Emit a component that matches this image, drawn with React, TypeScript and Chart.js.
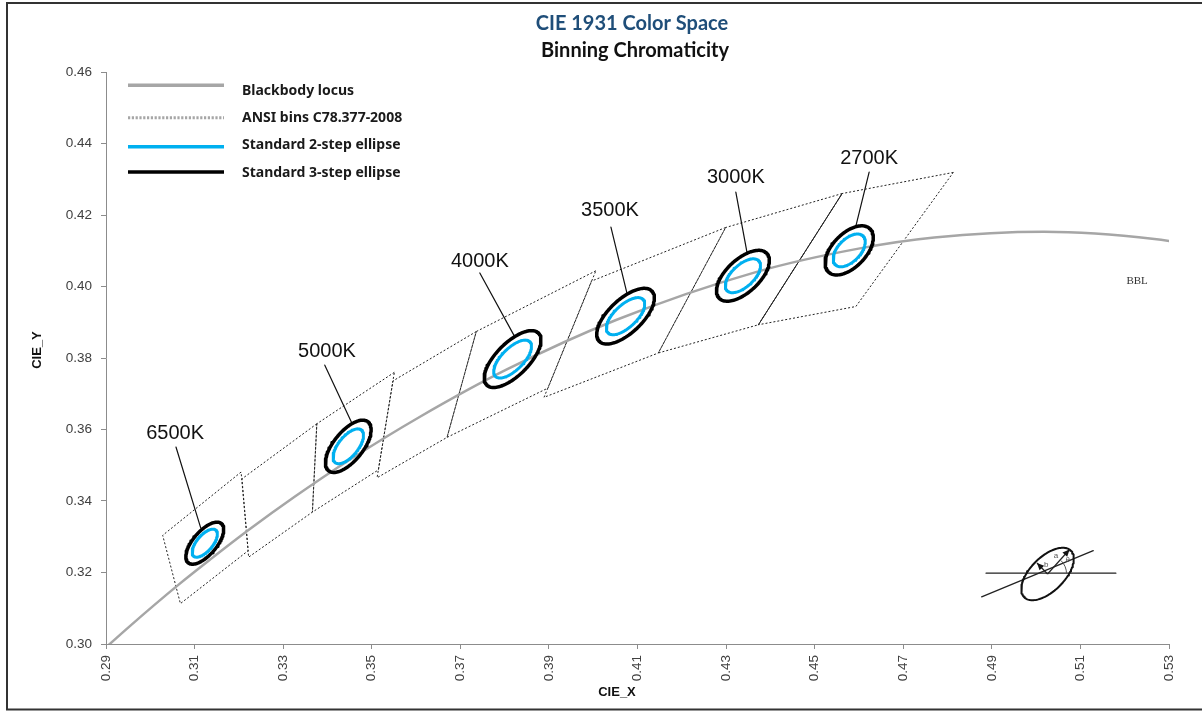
import React, { useEffect, useRef } from 'react';
import { Chart, registerables } from 'chart.js';

Chart.register(...registerables);

// ---------- axis ticks ----------
const xTickValues = [0.29, 0.31, 0.33, 0.35, 0.37, 0.39, 0.41, 0.43, 0.45, 0.47, 0.49, 0.51, 0.53];
const yTickValues = [0.30, 0.32, 0.34, 0.36, 0.38, 0.40, 0.42, 0.44, 0.46];

// ---------- Planckian (blackbody) locus, CIE 1931 x / y ----------
const locusX = [0.2869, 0.2952, 0.3064, 0.3135, 0.3221, 0.3325, 0.3451, 0.3608, 0.3805, 0.4053, 0.4369, 0.4599, 0.4770, 0.5018, 0.5267, 0.5403];
const locusY = [0.2956, 0.3048, 0.3166, 0.3236, 0.3318, 0.3411, 0.3516, 0.3635, 0.3768, 0.3907, 0.4041, 0.4106, 0.4137, 0.4153, 0.4133, 0.4106];

// ---------- ANSI C78.377-2008 quadrangles ----------
const binNames = ['6500K', '5700K', '5000K', '4500K', '4000K', '3500K', '3000K', '2700K'];
const binCornerX = [
  [0.3205, 0.3028, 0.3068, 0.3221],
  [0.3376, 0.3207, 0.3222, 0.3366],
  [0.3551, 0.3376, 0.3366, 0.3515],
  [0.3736, 0.3548, 0.3512, 0.3670],
  [0.4006, 0.3736, 0.3670, 0.3898],
  [0.4299, 0.3996, 0.3889, 0.4147],
  [0.4562, 0.4299, 0.4147, 0.4373],
  [0.4813, 0.4562, 0.4373, 0.4593],
];
const binCornerY = [
  [0.3481, 0.3304, 0.3113, 0.3261],
  [0.3616, 0.3462, 0.3243, 0.3369],
  [0.3760, 0.3616, 0.3369, 0.3487],
  [0.3874, 0.3736, 0.3465, 0.3578],
  [0.4044, 0.3874, 0.3578, 0.3716],
  [0.4165, 0.4015, 0.3690, 0.3814],
  [0.4260, 0.4165, 0.3814, 0.3893],
  [0.4319, 0.4260, 0.3893, 0.3944],
];
const solidEdgeX = [0.4562, 0.4373];
const solidEdgeY = [0.4260, 0.3893];

// ---------- MacAdam ellipses (1-step parameters) ----------
const ellipseCCT = ['6500K', '5000K', '4000K', '3500K', '3000K', '2700K'];
const ellipseCx = [0.3123, 0.3447, 0.3818, 0.4073, 0.4338, 0.4578];
const ellipseCy = [0.3282, 0.3553, 0.3797, 0.3917, 0.4030, 0.4101];
const ellipseA = [0.00223, 0.00274, 0.00313, 0.00309, 0.00278, 0.00258];
const ellipseB = [0.00095, 0.00118, 0.00134, 0.00138, 0.00136, 0.00137];
const ellipseThetaDeg = [58.23, 59.62, 54.0, 52.69, 53.22, 57.17];
const stepTwo = 2;
const stepThree = 3;

// ---------- CCT labels and leader lines ----------
const labelX = [0.3056, 0.3399, 0.3744, 0.4038, 0.4322, 0.4623];
const labelY = [0.3590, 0.3817, 0.4071, 0.4214, 0.4304, 0.4357];
const leaderStartX = [0.3058, 0.3394, 0.3744, 0.4040, 0.4322, 0.4623];
const leaderStartY = [0.3551, 0.3780, 0.4038, 0.4166, 0.4264, 0.4320];
const leaderEndX = [0.3114, 0.3455, 0.3823, 0.4076, 0.4347, 0.4593];
const leaderEndY = [0.3324, 0.3618, 0.3859, 0.3982, 0.4097, 0.4169];

const bblLabel = 'BBL';
const bblX = 0.5228;
const bblY = 0.4015;

// ---------- schematic ellipse (a, b, θ) ----------
const schemCenter = [0.50258, 0.31958];
const schemU = [0.005268, 0.006527];
const schemV = [-0.002714, 0.003363];
const schemHLineX = [0.4887, 0.5180];
const schemHLineY = [0.3198, 0.3198];
const schemSlantX = [0.4877, 0.5129];
const schemSlantY = [0.3132, 0.3261];
const schemArrowATip = [0.50754, 0.32643];
const schemArrowBTip = [0.5002, 0.32266];
const schemLabelText = ['a', 'b', 'θ'];
const schemLabelX = [0.50449, 0.5023, 0.50713];
const schemLabelY = [0.3247, 0.3221, 0.32369];

const legendLabels = ['Blackbody locus', 'ANSI bins C78.377-2008', 'Standard 2-step ellipse', 'Standard 3-step ellipse'];

function ellipseOutline(cx: number, cy: number, ux: number, uy: number, vx: number, vy: number, n = 120) {
  const pts: { x: number; y: number }[] = [];
  for (let i = 0; i <= n; i++) {
    const t = (i / n) * Math.PI * 2;
    pts.push({ x: cx + ux * Math.cos(t) + vx * Math.sin(t), y: cy + uy * Math.cos(t) + vy * Math.sin(t) });
  }
  return pts;
}

function macAdam(i: number, k: number) {
  const th = (ellipseThetaDeg[i] * Math.PI) / 180;
  const a = ellipseA[i] * k;
  const b = ellipseB[i] * k;
  return ellipseOutline(ellipseCx[i], ellipseCy[i], a * Math.cos(th), a * Math.sin(th), -b * Math.sin(th), b * Math.cos(th));
}

function drawArrow(ctx: CanvasRenderingContext2D, x0: number, y0: number, x1: number, y1: number) {
  ctx.beginPath();
  ctx.moveTo(x0, y0);
  ctx.lineTo(x1, y1);
  ctx.stroke();
  const ang = Math.atan2(y1 - y0, x1 - x0);
  const L = 7;
  const W = 3.2;
  ctx.beginPath();
  ctx.moveTo(x1, y1);
  ctx.lineTo(x1 - L * Math.cos(ang) + W * Math.sin(ang), y1 - L * Math.sin(ang) - W * Math.cos(ang));
  ctx.lineTo(x1 - L * Math.cos(ang) - W * Math.sin(ang), y1 - L * Math.sin(ang) + W * Math.cos(ang));
  ctx.closePath();
  ctx.fill();
}

const decorPlugin = {
  id: 'decor',
  beforeDraw(chart: any) {
    const ctx = chart.ctx;
    ctx.save();
    ctx.fillStyle = '#ffffff';
    ctx.fillRect(0, 0, chart.width, chart.height);
    ctx.restore();
  },
  afterDatasetsDraw(chart: any) {
    const ctx: CanvasRenderingContext2D = chart.ctx;
    const xs = chart.scales.x;
    const ys = chart.scales.y;
    ctx.save();
    // CCT labels
    ctx.font = '20px "Liberation Sans", Arial, sans-serif';
    ctx.fillStyle = '#111111';
    ctx.textAlign = 'center';
    ctx.textBaseline = 'middle';
    ellipseCCT.forEach((t, i) => {
      ctx.fillText(t, xs.getPixelForValue(labelX[i]), ys.getPixelForValue(labelY[i]));
    });
    // BBL
    ctx.font = '11px "Liberation Serif", "Times New Roman", serif';
    ctx.fillStyle = '#333333';
    ctx.fillText(bblLabel, xs.getPixelForValue(bblX), ys.getPixelForValue(bblY));
    // schematic arrows
    const cx = xs.getPixelForValue(schemCenter[0]);
    const cy = ys.getPixelForValue(schemCenter[1]);
    ctx.strokeStyle = '#222222';
    ctx.fillStyle = '#111111';
    ctx.lineWidth = 1.2;
    drawArrow(ctx, cx, cy, xs.getPixelForValue(schemArrowATip[0]), ys.getPixelForValue(schemArrowATip[1]));
    drawArrow(ctx, cx, cy, xs.getPixelForValue(schemArrowBTip[0]), ys.getPixelForValue(schemArrowBTip[1]));
    ctx.strokeStyle = '#555555';
    ctx.lineWidth = 1;
    ctx.beginPath();
    ctx.arc(cx, cy, 19, -Math.PI / 4, 0);
    ctx.stroke();
    ctx.font = '8px "Liberation Sans", Arial, sans-serif';
    ctx.fillStyle = '#555555';
    schemLabelText.forEach((t, i) => {
      ctx.fillText(t, xs.getPixelForValue(schemLabelX[i]), ys.getPixelForValue(schemLabelY[i]));
    });
    ctx.restore();
  },
  afterDraw(chart: any) {
    const ctx: CanvasRenderingContext2D = chart.ctx;
    const area = chart.chartArea;
    ctx.save();
    // title
    ctx.textAlign = 'center';
    ctx.textBaseline = 'alphabetic';
    ctx.font = 'bold 20px Lato, "Noto Sans", sans-serif';
    ctx.fillStyle = '#1F4E79';
    ctx.fillText('CIE 1931 Color Space', 632, 29.5);
    ctx.fillStyle = '#111111';
    ctx.fillText('Binning Chromaticity', 635, 56.5);

    // legend
    const lx0 = area.left + 22;
    const lx1 = area.left + 118;
    const tx = area.left + 136;
    const lineYs = [85.3, 117.7, 146.7, 172];
    const baseYs = [94.8, 122, 149, 176.5];
    const colors = ['#A6A6A6', '#A6A6A6', '#00B0F0', '#000000'];
    const widths = [3.5, 3, 3.5, 3.5];
    legendLabels.forEach((lab, i) => {
      ctx.beginPath();
      ctx.strokeStyle = colors[i];
      ctx.lineWidth = widths[i];
      ctx.setLineDash(i === 1 ? [2.2, 1.6] : []);
      ctx.moveTo(lx0, lineYs[i]);
      ctx.lineTo(lx1, lineYs[i]);
      ctx.stroke();
      ctx.setLineDash([]);
      ctx.font = 'bold 14px "Noto Sans", sans-serif';
      ctx.fillStyle = '#1a1a1a';
      ctx.textAlign = 'left';
      ctx.fillText(lab, tx, baseYs[i]);
    });

    // axis titles
    ctx.font = 'bold 13px "Liberation Sans", Arial, sans-serif';
    ctx.fillStyle = '#111111';
    ctx.textAlign = 'center';
    ctx.textBaseline = 'middle';
    ctx.fillText('CIE_X', 617, 692);
    ctx.save();
    ctx.translate(37, 350);
    ctx.rotate(-Math.PI / 2);
    ctx.fillText('CIE_Y', 0, 0);
    ctx.restore();

    // frame
    ctx.strokeStyle = '#333333';
    ctx.lineWidth = 2;
    ctx.beginPath();
    ctx.moveTo(1202, 3);
    ctx.lineTo(7, 3);
    ctx.lineTo(7, 709.5);
    ctx.lineTo(1202, 709.5);
    ctx.stroke();
    ctx.restore();
  },
};

export default function App() {
  const canvasRef = useRef<HTMLCanvasElement | null>(null);

  useEffect(() => {
    if (!canvasRef.current) return;
    const base = {
      type: 'scatter',
      showLine: true,
      pointRadius: 0,
      pointHoverRadius: 0,
      fill: false,
      tension: 0,
      borderJoinStyle: 'round',
      borderCapStyle: 'round',
    };
    const datasets: any[] = [];

    ellipseCx.forEach((_, i) => {
      datasets.push({ ...base, label: 'Standard 2-step ellipse', data: macAdam(i, stepTwo), borderColor: '#00B0F0', borderWidth: 3 });
    });
    ellipseCx.forEach((_, i) => {
      datasets.push({ ...base, label: 'Standard 3-step ellipse', data: macAdam(i, stepThree), borderColor: '#000000', borderWidth: 3.5 });
    });

    // schematic
    datasets.push({
      ...base,
      label: 'schematic ellipse',
      data: ellipseOutline(schemCenter[0], schemCenter[1], schemU[0], schemU[1], schemV[0], schemV[1]),
      borderColor: '#111111',
      borderWidth: 2,
    });
    datasets.push({
      ...base,
      label: 'schematic horizontal',
      data: schemHLineX.map((x, i) => ({ x, y: schemHLineY[i] })),
      borderColor: '#222222',
      borderWidth: 1.3,
    });
    datasets.push({
      ...base,
      label: 'schematic slant',
      data: schemSlantX.map((x, i) => ({ x, y: schemSlantY[i] })),
      borderColor: '#222222',
      borderWidth: 1.3,
    });

    // leader lines
    ellipseCCT.forEach((name, i) => {
      datasets.push({
        ...base,
        label: 'leader ' + name,
        data: [
          { x: leaderStartX[i], y: leaderStartY[i] },
          { x: leaderEndX[i], y: leaderEndY[i] },
        ],
        borderColor: '#111111',
        borderWidth: 1.2,
      });
    });

    // blackbody locus
    datasets.push({
      ...base,
      label: 'Blackbody locus',
      data: locusX.map((x, i) => ({ x, y: locusY[i] })),
      borderColor: '#A6A6A6',
      borderWidth: 2.5,
      cubicInterpolationMode: 'monotone',
    });

    // ANSI bins
    binNames.forEach((name, i) => {
      const pts = binCornerX[i].map((x, j) => ({ x, y: binCornerY[i][j] }));
      pts.push(pts[0]);
      datasets.push({
        ...base,
        label: 'ANSI ' + name,
        data: pts,
        borderColor: '#222222',
        borderWidth: 1,
        borderDash: [2, 2],
        borderCapStyle: 'butt',
      });
    });
    datasets.push({
      ...base,
      label: 'ANSI solid edge',
      data: solidEdgeX.map((x, i) => ({ x, y: solidEdgeY[i] })),
      borderColor: '#222222',
      borderWidth: 1,
    });

    const tickFont = { family: '"Liberation Sans", Arial, sans-serif', size: 13.5 };

    const chart = new Chart(canvasRef.current, {
      type: 'scatter',
      data: { datasets },
      options: {
        animation: false,
        responsive: false,
        events: [],
        layout: { padding: { left: 0, right: 33, top: 72, bottom: 0 } },
        plugins: {
          legend: { display: false },
          tooltip: { enabled: false },
          title: { display: false },
        },
        scales: {
          x: {
            type: 'linear',
            min: 0.29,
            max: 0.53,
            afterBuildTicks: (s: any) => {
              s.ticks = xTickValues.map((v) => ({ value: v }));
            },
            afterFit: (s: any) => {
              s.height = 67;
            },
            ticks: {
              callback: (v: any) => Number(v).toFixed(2),
              maxRotation: 90,
              minRotation: 90,
              autoSkip: false,
              padding: 6,
              font: tickFont,
              color: '#404040',
            },
            grid: { drawOnChartArea: false, tickLength: 5, color: '#8c8c8c' },
            border: { color: '#8c8c8c', width: 1 },
          },
          y: {
            type: 'linear',
            min: 0.3,
            max: 0.46,
            afterBuildTicks: (s: any) => {
              s.ticks = yTickValues.map((v) => ({ value: v }));
            },
            afterFit: (s: any) => {
              s.width = 106;
            },
            ticks: {
              callback: (v: any) => Number(v).toFixed(2),
              autoSkip: false,
              padding: 9,
              font: tickFont,
              color: '#404040',
            },
            grid: { drawOnChartArea: false, tickLength: 5, color: '#8c8c8c' },
            border: { color: '#8c8c8c', width: 1 },
          },
        },
      } as any,
      plugins: [decorPlugin],
    } as any);

    return () => {
      chart.destroy();
    };
  }, []);

  return (
    <div style={{ position: 'absolute', left: 0, top: 0, width: 1202, height: 711, background: '#fff' }}>
      <canvas ref={canvasRef} width={1202} height={711} style={{ display: 'block', width: 1202, height: 711 }} />
    </div>
  );
}
